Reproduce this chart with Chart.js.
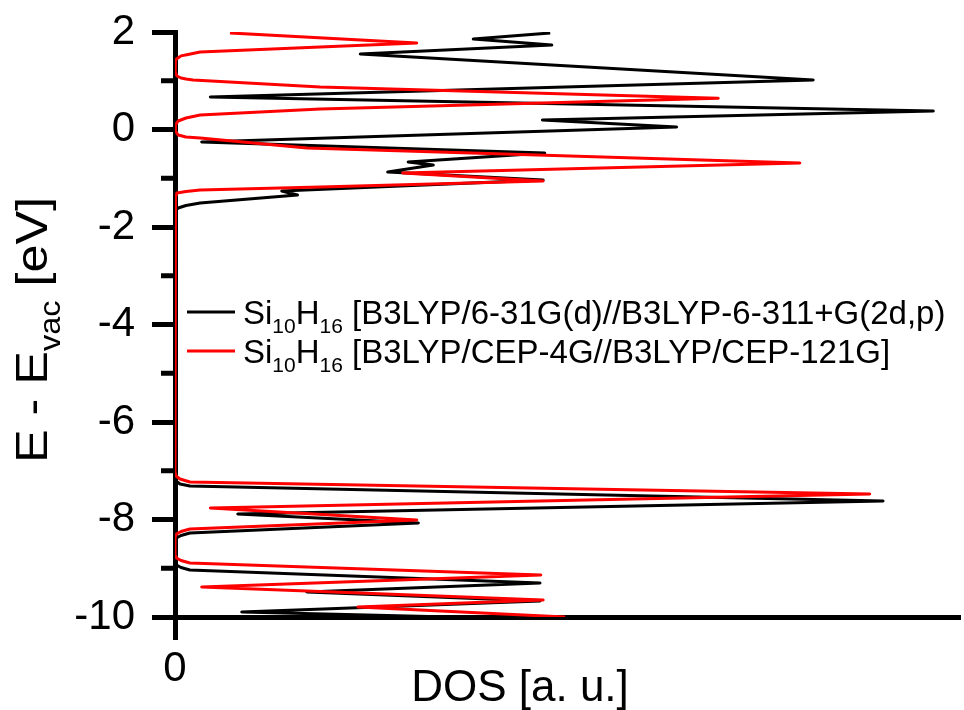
<!DOCTYPE html>
<html>
<head>
<meta charset="utf-8">
<script src="https://cdn.jsdelivr.net/npm/chart.js@4.4.0/dist/chart.umd.min.js"></script>
<style>
  html, body { margin: 0; padding: 0; background: #fff; }
  #wrap { width: 964px; height: 710px; }
</style>
</head>
<body>
<div id="wrap"><canvas id="dosChart" width="964" height="710"></canvas></div>
<script>
// axis ranges: energy in eV, DOS in arbitrary units
var energyMin = -10;
var energyMax = 2;
var dosMax = 100;
var energyTicks = [-10, -9, -8, -7, -6, -5, -4, -3, -2, -1, 0, 1, 2];
var dosTicks = [0];

// Si10H16, B3LYP/6-31G(d)//B3LYP-6-311+G(2d,p)
var energyBlack = [1.98, 1.856, 1.733, 1.549, 1.015, 0.667, 0.379, 0.195, 0.051, -0.256,
  -0.482, -0.667, -0.728, -0.872, -1.036, -1.262, -1.344, -1.508, -1.559, -1.61,
  -1.672, -1.713, -7.128, -7.21, -7.272, -7.313, -7.621, -7.887, -8.072, -8.277,
  -8.328, -8.379, -8.441, -8.872, -8.933, -8.985, -9.036, -9.303, -9.487, -9.672,
  -9.897, -10];
var dosBlack = [47.8, 38.0, 48.0, 23.6, 81.3, 4.5, 96.6, 46.8, 63.9, 3.4,
  47.1, 29.7, 32.9, 27.1, 46.9, 13.6, 15.6, 3.2, 1.4, 0.4,
  0.06, 0, 0, 0.13, 0.64, 1.9, 90.2, 8.0, 31.0, 1.9,
  0.76, 0.19, 0, 0, 0.19, 0.76, 1.9, 46.5, 16.8, 46.5,
  8.5, 35];

// Si10H16, B3LYP/CEP-4G//B3LYP/CEP-121G
var energyRed = [1.98, 1.774, 1.692, 1.59, 1.54, 1.51, 1.43, 1.282, 1.18, 1.097,
  1.056, 1.036, 1.015, 0.872, 0.64, 0.421, 0.297, 0.236, 0.174, 0.092,
  -0.031, -0.113, -0.154, -0.174, -0.379, -0.687, -0.892, -1.056, -1.179, -1.241,
  -1.272, -1.303, -1.385, -1.446, -7.026, -7.108, -7.169, -7.231, -7.477, -7.764,
  -8.01, -8.195, -8.246, -8.297, -8.359, -8.728, -8.79, -8.841, -8.892, -9.138,
  -9.385, -9.651, -9.795, -10];
var dosRed = [7.0, 30.8, 18.5, 3.2, 1.66, 0.76, 0.06, 0, 0.06, 0.25,
  0.76, 1.4, 2.3, 18.5, 69.2, 18.5, 3.2, 1.4, 0.4, 0.06,
  0.06, 0.4, 1.4, 3.2, 16.8, 79.6, 29.0, 46.9, 18.5, 3.2,
  1.4, 0.25, 0.06, 0, 0, 0.13, 0.64, 1.9, 88.5, 4.5,
  30.8, 1.9, 0.76, 0.19, 0, 0, 0.19, 0.76, 1.9, 46.6,
  3.4, 46.9, 23.3, 49.7];

var legendRows = [
  { color: '#000000', parts: [['Si', 0], ['10', 1], ['H', 0], ['16', 1], [' [B3LYP/6-31G(d)//B3LYP-6-311+G(2d,p)', 0]] },
  { color: '#ff0000', parts: [['Si', 0], ['10', 1], ['H', 0], ['16', 1], [' [B3LYP/CEP-4G//B3LYP/CEP-121G]', 0]] }
];
var yTitle = [['E - E', 0], ['vac', 1], [' [eV]', 0]];
var xTitle = 'DOS [a. u.]';

var FONT = 'Liberation Sans, Arial, sans-serif';

function toPoints(xs, ys) {
  var pts = [];
  for (var i = 0; i < xs.length; i++) {
    pts.push({ x: xs[i], y: ys[i] });
  }
  return pts;
}

// text with subscripts, drawn from x along the baseline
function partsWidth(ctx, parts, size) {
  var w = 0;
  parts.forEach(function (p) {
    ctx.font = (p[1] ? Math.round(size * 0.64) : size) + 'px ' + FONT;
    w += ctx.measureText(p[0]).width;
  });
  return w;
}
function drawParts(ctx, parts, x, y, size, color) {
  ctx.fillStyle = color;
  ctx.textBaseline = 'alphabetic';
  ctx.textAlign = 'left';
  parts.forEach(function (p) {
    ctx.font = (p[1] ? Math.round(size * 0.64) : size) + 'px ' + FONT;
    ctx.fillText(p[0], x, p[1] ? y + size * 0.28 : y);
    x += ctx.measureText(p[0]).width;
  });
}

var decorPlugin = {
  id: 'decor',
  afterDraw: function (chart) {
    var ctx = chart.ctx;
    var ys = chart.scales.y;
    var left = chart.chartArea.left;
    ctx.save();

    // minor ticks on the energy axis
    ctx.strokeStyle = '#000';
    ctx.lineWidth = 5;
    energyTicks.forEach(function (v) {
      if (v % 2 === 0) return;
      var py = ys.getPixelForValue(v);
      ctx.beginPath();
      ctx.moveTo(left - 14, py);
      ctx.lineTo(left, py);
      ctx.stroke();
    });

    // y axis title, rotated and a little stretched along its length
    var size = 45;
    var stretch = 1.12;
    var w = partsWidth(ctx, yTitle, size);
    ctx.save();
    ctx.translate(47, 330);
    ctx.rotate(-Math.PI / 2);
    ctx.scale(stretch, 1);
    drawParts(ctx, yTitle, -w / 2, 0, size, '#000');
    ctx.restore();

    // x axis title
    ctx.font = '44px ' + FONT;
    ctx.fillStyle = '#000';
    ctx.textAlign = 'center';
    ctx.textBaseline = 'alphabetic';
    ctx.fillText(xTitle, 520, 701);

    // legend
    var lsize = 33;
    legendRows.forEach(function (row, i) {
      var ly = 312 + i * 39;
      ctx.strokeStyle = row.color;
      ctx.lineWidth = 3;
      ctx.beginPath();
      ctx.moveTo(187, ly);
      ctx.lineTo(235, ly);
      ctx.stroke();
      drawParts(ctx, row.parts, 243, ly + 12, lsize, '#000');
    });
    ctx.restore();
  }
};

var ctx = document.getElementById('dosChart').getContext('2d');
var chart = new Chart(ctx, {
  type: 'scatter',
  data: {
    datasets: [
      {
        label: 'Si10H16 [B3LYP/6-31G(d)//B3LYP-6-311+G(2d,p)',
        data: toPoints(dosBlack, energyBlack),
        showLine: true,
        borderColor: '#000000',
        borderWidth: 3,
        borderJoinStyle: 'round',
        pointRadius: 0,
        tension: 0,
        order: 1
      },
      {
        label: 'Si10H16 [B3LYP/CEP-4G//B3LYP/CEP-121G]',
        data: toPoints(dosRed, energyRed),
        showLine: true,
        borderColor: '#ff0000',
        borderWidth: 3,
        borderJoinStyle: 'round',
        pointRadius: 0,
        tension: 0,
        order: 0
      }
    ]
  },
  options: {
    responsive: false,
    animation: false,
    layout: { padding: { top: 32, right: 4, left: 0, bottom: 0 } },
    plugins: {
      legend: { display: false },
      tooltip: { enabled: false }
    },
    scales: {
      x: {
        type: 'linear',
        min: 0,
        max: dosMax,
        afterBuildTicks: function (s) {
          s.ticks = dosTicks.map(function (v) { return { value: v }; });
        },
        afterFit: function (s) {
          s.height = 93;
          s.paddingLeft = 0;
          s.paddingRight = 0;
        },
        grid: { display: true, drawOnChartArea: false, tickLength: 23, tickWidth: 5, tickColor: '#000' },
        border: { display: true, color: '#000', width: 5 },
        ticks: { color: '#000', font: { family: FONT, size: 42 }, padding: 4, maxRotation: 0 }
      },
      y: {
        type: 'linear',
        min: energyMin,
        max: energyMax,
        afterBuildTicks: function (s) {
          s.ticks = energyTicks.map(function (v) { return { value: v }; });
        },
        afterFit: function (s) {
          s.width = 175;
          s.paddingTop = 0;
          s.paddingBottom = 0;
        },
        grid: {
          display: true,
          drawOnChartArea: false,
          tickLength: 23,
          tickWidth: 5,
          tickColor: function (c) {
            return c.tick && c.tick.value % 2 !== 0 ? 'rgba(0,0,0,0)' : '#000';
          }
        },
        border: { display: true, color: '#000', width: 5 },
        ticks: {
          autoSkip: false,
          color: '#000',
          font: { family: FONT, size: 42 },
          padding: 17,
          callback: function (v) { return v % 2 === 0 ? v : ''; }
        }
      }
    }
  },
  plugins: [decorPlugin]
});
</script>
</body>
</html>
